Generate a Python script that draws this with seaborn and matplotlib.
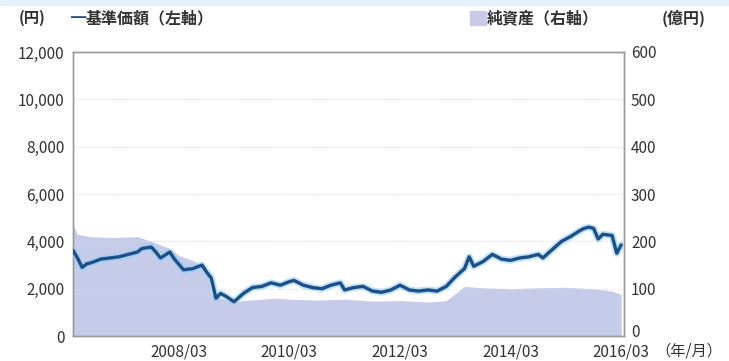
import matplotlib
matplotlib.use("Agg")
import matplotlib.pyplot as plt
import matplotlib.patches as mpatches
import matplotlib.transforms as mtransforms
import seaborn as sns
import pandas as pd

# --- data ---
price_dates = ["2006-04", "2006-05", "2006-06", "2006-07", "2006-08", "2006-10", "2006-12",
               "2007-02", "2007-04", "2007-06", "2007-07", "2007-09", "2007-10", "2007-11",
               "2008-01", "2008-02", "2008-04", "2008-06", "2008-08", "2008-09", "2008-10",
               "2008-11", "2008-12", "2009-01", "2009-03", "2009-05", "2009-07", "2009-09",
               "2009-11", "2010-01", "2010-03", "2010-04", "2010-06", "2010-08", "2010-10",
               "2010-12", "2011-02", "2011-03", "2011-05", "2011-07", "2011-09", "2011-11",
               "2012-01", "2012-03", "2012-05", "2012-07", "2012-09", "2012-11", "2013-01",
               "2013-03", "2013-05", "2013-06", "2013-07", "2013-09", "2013-11", "2014-01",
               "2014-03", "2014-05", "2014-07", "2014-09", "2014-10", "2014-12", "2015-02",
               "2015-04", "2015-06", "2015-07", "2015-08", "2015-09", "2015-10", "2015-11",
               "2016-01", "2016-02", "2016-03"]
price_values = [3630, 3300, 2900, 3050, 3100, 3250, 3300,
                3350, 3450, 3550, 3700, 3760, 3550, 3300,
                3550, 3250, 2800, 2850, 3000, 2700, 2450,
                1600, 1800, 1700, 1450, 1800, 2050, 2100,
                2250, 2150, 2300, 2350, 2150, 2050, 2000,
                2150, 2250, 1950, 2050, 2100, 1900, 1850,
                1950, 2150, 1950, 1900, 1950, 1900, 2100,
                2500, 2850, 3350, 2950, 3150, 3450, 3250,
                3200, 3300, 3350, 3450, 3300, 3650, 4000,
                4200, 4450, 4550, 4600, 4550, 4100, 4300,
                4250, 3500, 3850]

asset_dates = ["2006-04", "2006-05", "2006-08", "2007-01", "2007-06", "2007-09", "2008-01",
               "2008-03", "2008-06", "2008-09", "2008-10", "2008-12", "2009-03", "2009-06",
               "2009-12", "2010-03", "2010-09", "2011-03", "2011-09", "2012-03", "2012-09",
               "2013-01", "2013-03", "2013-05", "2013-09", "2014-03", "2014-09", "2015-03",
               "2015-09", "2016-01", "2016-03"]
asset_values = [235, 215, 210, 208, 210, 200, 185,
                170, 160, 140, 90, 80, 72, 76,
                80, 78, 76, 78, 74, 75, 72,
                75, 90, 105, 102, 100, 102, 103,
                100, 95, 88]

xtick_labels = ["2008/03", "2010/03", "2012/03", "2014/03", "2016/03"]
left_ticks = [0, 2000, 4000, 6000, 8000, 10000, 12000]
right_ticks = [0, 100, 200, 300, 400, 500, 600]

price_df = pd.DataFrame({"date": pd.to_datetime(price_dates), "price": price_values})
asset_df = pd.DataFrame({"date": pd.to_datetime(asset_dates), "assets": asset_values})

# --- styling ---
sns.set_style("white")
plt.rcParams["font.family"] = ["Noto Sans CJK JP", "DejaVu Sans"]
text_col = "#333333"
line_col = "#1d4f86"
area_col = "#c6cbe9"
spine_col = "#9a9a9a"

fig = plt.figure(figsize=(7.29, 3.61), dpi=100)
fig.patches.append(mpatches.Rectangle((0, 0.985), 1, 0.015, transform=fig.transFigure,
                                      color="#e3f1fb", zorder=0))
ax = fig.add_axes([0.100, 0.069, 0.756, 0.787])
ax2 = ax.twinx()

# net assets area (right axis)
ax2.fill_between(asset_df["date"], asset_df["assets"], 0, color=area_col, linewidth=0, zorder=1)
ax2.set_ylim(0, 600)

# price line (left axis) drawn above
ax.set_zorder(ax2.get_zorder() + 1)
ax.patch.set_visible(False)
sns.lineplot(data=price_df, x="date", y="price", ax=ax, color="#8fd0f5", linewidth=5.0,
             alpha=0.6, zorder=3)
sns.lineplot(data=price_df, x="date", y="price", ax=ax, color=line_col, linewidth=2.4, zorder=4)
ax.set_ylim(0, 12000)
ax.set_xlim(pd.Timestamp("2006-04-01"), pd.Timestamp("2016-03-20"))

ax.set_xlabel("")
ax.set_ylabel("")
ax2.set_ylabel("")

ax.set_yticks(left_ticks)
ax.set_yticklabels([f"{v:,}" for v in left_ticks])
ax2.set_yticks(right_ticks)
ax2.set_yticklabels([str(v) for v in right_ticks])

tick_pos = [pd.Timestamp(l.replace("/", "-") + "-01") for l in xtick_labels]
ax.set_xticks(tick_pos)
ax.set_xticklabels(xtick_labels)

for a in (ax, ax2):
    a.tick_params(axis="y", length=0, labelsize=11, labelcolor=text_col, pad=6)
    for s in a.spines.values():
        s.set_color(spine_col)
        s.set_linewidth(1.0)
ax.tick_params(axis="x", direction="in", length=3, color=spine_col, labelsize=11,
               labelcolor=text_col, pad=5)
ax2.tick_params(axis="y", pad=5)

# raise the right-axis "0" a little, as in the reference
zero_lbl = ax2.get_yticklabels()[0]
zero_lbl.set_transform(zero_lbl.get_transform() +
                       mtransforms.ScaledTranslation(0, 4 / 72, fig.dpi_scale_trans))

ax.grid(axis="y", color="#d8d8d8", linestyle=(0, (1, 1.5)), linewidth=0.8)
ax.grid(axis="x", visible=False)

# header texts
hy = 0.950
fig.text(0.026, hy, "(円)", fontsize=11, color=text_col, va="center", fontweight="bold")
fig.text(0.098, hy, "━", fontsize=11, color=line_col, va="center")
fig.text(0.118, hy, "基準価額（左軸）", fontsize=11.5, color=text_col, va="center",
         fontweight="bold")
fig.patches.append(mpatches.Rectangle((0.645, hy - 0.020), 0.021, 0.040,
                                      transform=fig.transFigure, color=area_col, zorder=2))
fig.text(0.668, hy, "純資産（右軸）", fontsize=11.5, color=text_col, va="center",
         fontweight="bold")
fig.text(0.908, hy, "(億円)", fontsize=11.5, color=text_col, va="center", fontweight="bold")
fig.text(0.899, 0.027, "（年/月）", fontsize=11, color=text_col, va="center")

fig.savefig("out.png", dpi=100)
